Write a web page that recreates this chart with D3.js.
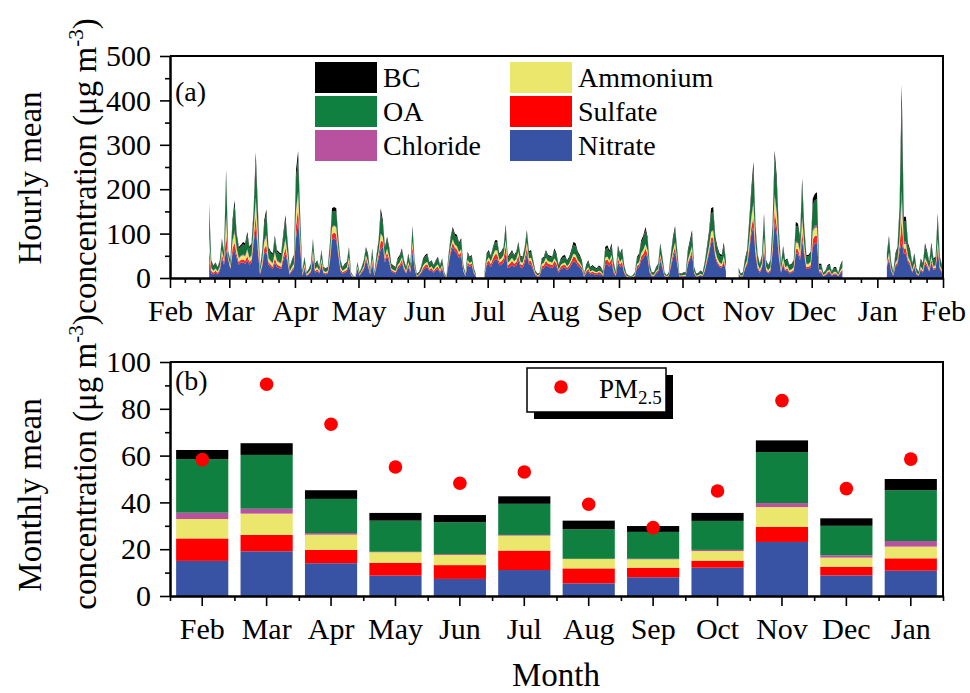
<!DOCTYPE html>
<html>
<head>
<meta charset="utf-8">
<script src="https://cdn.jsdelivr.net/npm/d3@7"></script>
<style>
  body { margin: 0; background: #fff; }
  text { font-family: "Liberation Serif", "Times New Roman", serif; fill: #000; }
</style>
</head>
<body>
<svg id="chart" width="970" height="693"></svg>
<script>
// ---------- data ----------
const months = ["Feb","Mar","Apr","May","Jun","Jul","Aug","Sep","Oct","Nov","Dec","Jan"];
const monthDays = [28,31,30,31,30,31,31,30,31,30,31,31];
const axisMonthLabels = ["Feb","Mar","Apr","May","Jun","Jul","Aug","Sep","Oct","Nov","Dec","Jan","Feb"];

const species = ["Nitrate","Sulfate","Ammonium","Chloride","OA","BC"];
const colors = {
  Nitrate: "#3953a4", Sulfate: "#ff0000", Ammonium: "#ebe76d",
  Chloride: "#b8529f", OA: "#0f8040", BC: "#000000"
};
// the dense daily areas read darker at their edges
const areaColors = Object.assign({}, colors, { OA: "#157039", Sulfate: "#f52a2a" });

// monthly mean concentrations (µg m-3), Feb .. Jan
const nitrate  = [15.0, 19.1, 14.0, 8.7, 7.3, 11.1, 5.4, 8.0, 12.1, 23.1, 8.8, 10.8];
const sulfate  = [ 9.6,  7.0,  5.7, 5.5, 5.9,  8.3, 6.4, 4.1,  3.0,  6.4, 3.7,  5.3];
const ammonium = [ 8.3,  9.1,  6.5, 4.5, 4.3,  6.4, 4.0, 3.6,  4.1,  8.5, 3.9,  5.0];
const chloride = [ 2.7,  2.1,  0.7, 0.2, 0.4,  0.3, 0.1, 0.2,  0.5,  1.7, 1.0,  2.4];
const oa       = [22.9, 23.0, 14.6,13.3,13.6, 13.3,12.6,11.5, 12.4, 21.8,12.6, 21.7];
const bc       = [ 3.9,  5.0,  3.7, 3.3, 3.1,  3.2, 3.7, 2.5,  3.4,  5.0, 3.2,  4.8];
const pm25     = [58.3, 90.5, 73.4,55.1,48.2, 53.0,39.2,29.2, 44.9, 83.5,45.9, 58.5];

// daily total of all species (µg m-3), one row per month, null = no data
const n = null;
const dailyTotal = [
  // Feb
  n,n,n,n,n,n,n,n,n,n,n,n,n,n,n,n,n,n,166,40,28,35,25,40,89,60,243,60,
  // Mar
  40,130,175,100,70,75,81,78,104,70,78,157,283,160,25,60,130,155,70,60,55,96,63,58,55,100,142,85,25,40,52,
  // Apr
  243,286,138,17,48,13,20,32,88,32,40,25,63,25,22,25,78,157,160,157,90,40,25,32,36,70,13,5,3,36,
  // May
  13,25,40,70,55,17,67,13,52,85,157,130,70,93,70,32,28,25,45,52,67,40,25,55,32,117,40,10,13,25,44,
  // Jun
  52,55,35,40,29,40,48,29,44,13,3,52,93,115,100,97,80,90,30,10,59,48,52,22,8,n,n,n,13,55,
  // Jul
  63,50,70,85,85,55,60,70,121,48,55,63,52,59,81,50,48,70,108,60,63,40,17,10,12,44,48,63,52,50,48,
  // Aug
  67,55,29,44,50,52,40,48,63,81,78,60,52,40,10,30,40,25,29,25,22,28,25,15,70,74,62,78,36,14,74,
  // Sep
  55,67,28,10,6,4,6,13,48,55,85,96,115,93,32,13,13,25,32,78,48,13,6,13,55,93,117,63,10,10,
  // Oct
  13,13,63,85,108,25,10,12,17,13,36,70,104,157,160,93,70,55,52,80,40,n,n,n,n,n,23,10,13,44,63,
  // Nov
  130,202,262,115,52,32,52,145,40,29,40,119,288,228,108,32,72,40,44,29,32,40,126,123,93,224,115,52,52,59,
  // Dec
  179,190,193,32,32,12,17,29,32,15,25,25,12,29,40,n,n,n,n,n,n,n,n,n,n,n,n,n,n,n,n,
  // Jan
  n,n,n,n,56,95,37,14,55,70,162,436,138,138,78,63,33,56,22,14,44,33,78,60,37,80,44,48,146,48,30
];

// daily nitrate (µg m-3), same layout
const dailyNitrate = [
  // Feb
  n,n,n,n,n,n,n,n,n,n,n,n,n,n,n,n,n,n,40,10,8,12,8,15,45,30,65,40,
  // Mar
  20,55,62,45,30,35,35,32,40,30,35,80,115,60,8,25,55,60,30,25,20,35,25,22,20,40,55,35,8,15,20,
  // Apr
  90,130,63,5,20,5,8,12,45,12,15,10,30,10,8,10,35,85,90,85,50,15,10,12,15,30,5,2,1,20,
  // May
  5,12,18,40,25,8,30,5,25,45,65,70,35,50,35,15,12,10,20,25,35,18,10,25,12,60,20,3,5,10,18,
  // Jun
  22,25,15,18,12,18,20,12,20,5,1,30,55,70,60,55,45,50,15,4,30,25,28,10,3,n,n,n,5,28,
  // Jul
  32,25,35,42,42,28,30,35,55,22,25,30,25,28,40,24,22,35,55,30,30,18,6,3,4,20,22,30,25,24,22,
  // Aug
  30,25,12,20,22,24,18,22,30,38,36,28,24,18,3,10,15,8,10,8,7,9,8,4,30,32,25,35,12,4,35,
  // Sep
  25,30,10,3,1,1,2,4,22,25,40,45,55,45,12,4,4,10,14,40,22,4,2,4,25,45,60,30,3,3,
  // Oct
  4,4,30,42,55,10,3,4,6,4,15,35,55,80,82,45,32,25,22,35,15,n,n,n,n,n,8,3,4,20,30,
  // Nov
  60,100,115,50,20,12,22,60,15,10,15,55,127,100,45,12,30,15,18,10,12,15,55,55,40,85,50,20,20,24,
  // Dec
  70,78,78,12,12,4,6,10,12,5,8,8,4,10,15,n,n,n,n,n,n,n,n,n,n,n,n,n,n,n,n,
  // Jan
  n,n,n,n,25,40,15,5,25,30,60,82,55,55,35,28,12,25,8,5,18,12,32,25,14,35,18,20,60,20,12
];

const hourlyTicks = [0, 100, 200, 300, 400, 500];
const hourlyMinor = [50, 150, 250, 350, 450];
const monthlyTicks = [0, 20, 40, 60, 80, 100];
const monthlyMinor = [10, 30, 50, 70, 90];

// ---------- layout ----------
const svg = d3.select("#chart");
const X0 = 170, X1 = 943;
const A = { top: 56, bottom: 278 };
const B = { top: 362, bottom: 596 };
const tickFont = 30, legendFont = 28, titleFont = 33;
const serif = '"Liberation Serif", "Times New Roman", serif';

const monthly = { Nitrate: nitrate, Sulfate: sulfate, Ammonium: ammonium, Chloride: chloride, OA: oa, BC: bc };
const others = species.filter(k => k !== "Nitrate");
const othersSum = months.map((m, i) => others.reduce((s, k) => s + monthly[k][i], 0));

// day offsets of month starts
const monthStart = [0];
monthDays.forEach(d => monthStart.push(monthStart[monthStart.length - 1] + d));
const nDays = monthStart[monthStart.length - 1];
const monthOfDay = d => d3.bisectRight(monthStart, d) - 1;

// ---------- panel (a): daily stacked areas ----------
const xA = d3.scaleLinear().domain([0, nDays]).range([X0, X1]);
const yA = d3.scaleLinear().domain([0, 500]).range([A.bottom, A.top]);

// nitrate per day; the rest of the daily total is split by that month's mean composition
const rowsA = dailyTotal.map((t, d) => {
  const m = monthOfDay(d);
  const row = { day: d, total: t, Nitrate: t == null ? 0 : dailyNitrate[d] };
  const rest = t == null ? 0 : t - dailyNitrate[d];
  others.forEach(k => { row[k] = rest * monthly[k][m] / othersSum[m]; });
  return row;
});
const stackA = d3.stack().keys(species)(rowsA);
const areaA = d3.area()
  .defined(d => d.data.total != null)
  .x(d => xA(d.data.day + 0.5))
  .y0(d => yA(d[0]))
  .y1(d => yA(d[1]));

svg.append("g").selectAll("path").data(stackA).join("path")
  .attr("d", areaA)
  .attr("fill", d => areaColors[d.key]);

// ---------- panel (b): monthly stacked bars ----------
const xB = d3.scaleBand().domain(months).range([X0, X1]).paddingInner(0.19).paddingOuter(0.095);
const xBedge = d3.scaleLinear().domain([0, 12]).range([X0, X1]);
const yB = d3.scaleLinear().domain([0, 100]).range([B.bottom, B.top]);

const rowsB = months.map((m, i) => {
  const r = { month: m };
  species.forEach(k => { r[k] = monthly[k][i]; });
  return r;
});
const stackB = d3.stack().keys(species)(rowsB);
svg.append("g").selectAll("g").data(stackB).join("g")
  .attr("fill", d => colors[d.key])
  .selectAll("rect").data(d => d).join("rect")
  .attr("x", d => xB(d.data.month))
  .attr("width", xB.bandwidth())
  .attr("y", d => yB(d[1]))
  .attr("height", d => yB(d[0]) - yB(d[1]));

svg.append("g").selectAll("circle").data(pm25).join("circle")
  .attr("cx", (d, i) => xB(months[i]) + xB.bandwidth() / 2)
  .attr("cy", d => yB(d))
  .attr("r", 6.8)
  .attr("fill", "#ff0000");

// ---------- axes & frames ----------
function styleAxis(g) {
  g.attr("font-family", serif);
  g.selectAll(".domain").attr("stroke-width", 2);
  g.selectAll(".tick line").attr("stroke-width", 1.6);
  g.selectAll(".tick text").attr("font-size", tickFont).style("font-family", serif);
}

function frame(top, bottom) {
  svg.append("path")
    .attr("d", `M${X0},${top}H${X1}V${bottom}`)
    .attr("fill", "none").attr("stroke", "#000").attr("stroke-width", 2);
}
frame(A.top, A.bottom);
frame(B.top, B.bottom);

// panel (a) y
svg.append("g").attr("transform", `translate(${X0},0)`)
  .call(d3.axisLeft(yA).tickValues(hourlyMinor).tickSize(5).tickFormat("").tickSizeOuter(0))
  .call(styleAxis);
svg.append("g").attr("transform", `translate(${X0},0)`)
  .call(d3.axisLeft(yA).tickValues(hourlyTicks).tickSize(10).tickPadding(9).tickSizeOuter(0))
  .call(styleAxis);

// panel (a) x: month starts plus quarter-month minor ticks
const minorDaysA = [];
for (let i = 0; i < 12; i++) {
  for (let q = 1; q < 4; q++) minorDaysA.push(monthStart[i] + monthDays[i] * q / 4);
}
svg.append("g").attr("transform", `translate(0,${A.bottom})`)
  .call(d3.axisBottom(xA).tickValues(minorDaysA).tickSize(5).tickFormat("").tickSizeOuter(0))
  .call(styleAxis);
svg.append("g").attr("transform", `translate(0,${A.bottom})`)
  .call(d3.axisBottom(xA).tickValues(monthStart).tickSize(10).tickPadding(12)
    .tickFormat((d, i) => axisMonthLabels[i]).tickSizeOuter(0))
  .call(styleAxis);

// panel (b) y
svg.append("g").attr("transform", `translate(${X0},0)`)
  .call(d3.axisLeft(yB).tickValues(monthlyMinor).tickSize(5).tickFormat("").tickSizeOuter(0))
  .call(styleAxis);
svg.append("g").attr("transform", `translate(${X0},0)`)
  .call(d3.axisLeft(yB).tickValues(monthlyTicks).tickSize(10).tickPadding(9).tickSizeOuter(0))
  .call(styleAxis);

// panel (b) x: labels at bar centres, short ticks at band edges
svg.append("g").attr("transform", `translate(0,${B.bottom})`)
  .call(d3.axisBottom(xBedge).tickValues(d3.range(0, 13)).tickSize(5).tickFormat("").tickSizeOuter(0))
  .call(styleAxis);
svg.append("g").attr("transform", `translate(0,${B.bottom})`)
  .call(d3.axisBottom(xB).tickSize(10).tickPadding(12).tickSizeOuter(0))
  .call(styleAxis);

// ---------- panel labels ----------
svg.append("text").attr("x", 175).attr("y", 101).attr("font-size", legendFont).text("(a)");
svg.append("text").attr("x", 175).attr("y", 390).attr("font-size", legendFont).text("(b)");

// ---------- legend (a) ----------
const legendOrder = ["BC", "Ammonium", "OA", "Sulfate", "Chloride", "Nitrate"];
const legA = svg.append("g");
legendOrder.forEach((k, i) => {
  const col = i % 2, row = Math.floor(i / 2);
  const x = col === 0 ? 315 : 510;
  const y = 62 + row * 34;
  legA.append("rect").attr("x", x).attr("y", y).attr("width", 62).attr("height", 31)
    .attr("fill", colors[k]);
  legA.append("text").attr("x", x + 68).attr("y", y + 25)
    .attr("font-size", legendFont).text(k);
});

// ---------- legend (b) ----------
const legB = svg.append("g");
legB.append("rect").attr("x", 534).attr("y", 375).attr("width", 139).attr("height", 44).attr("fill", "#000");
legB.append("rect").attr("x", 527).attr("y", 368).attr("width", 139).attr("height", 44)
  .attr("fill", "#fff").attr("stroke", "#000").attr("stroke-width", 1.5);
legB.append("circle").attr("cx", 561).attr("cy", 387).attr("r", 6.8).attr("fill", "#ff0000");
const pmText = legB.append("text").attr("x", 599).attr("y", 398).attr("font-size", 27);
pmText.append("tspan").text("PM");
pmText.append("tspan").attr("font-size", 19).attr("dy", 6).text("2.5");

// ---------- axis titles ----------
function yTitle(x, y) {
  return svg.append("text")
    .attr("transform", `translate(${x},${y}) rotate(-90)`)
    .attr("text-anchor", "middle").attr("font-size", titleFont);
}
function unitLine(t) {
  t.append("tspan").text("concentration (μg m");
  t.append("tspan").attr("font-size", 21).attr("dy", -13).text("-3");
  t.append("tspan").attr("dy", 13).text(")");
}
yTitle(41, 178).text("Hourly mean");
unitLine(yTitle(96, 166));
yTitle(41, 495).text("Monthly mean");
unitLine(yTitle(96, 462));

svg.append("text").attr("x", 556).attr("y", 686).attr("text-anchor", "middle")
  .attr("font-size", titleFont).text("Month");
</script>
</body>
</html>
